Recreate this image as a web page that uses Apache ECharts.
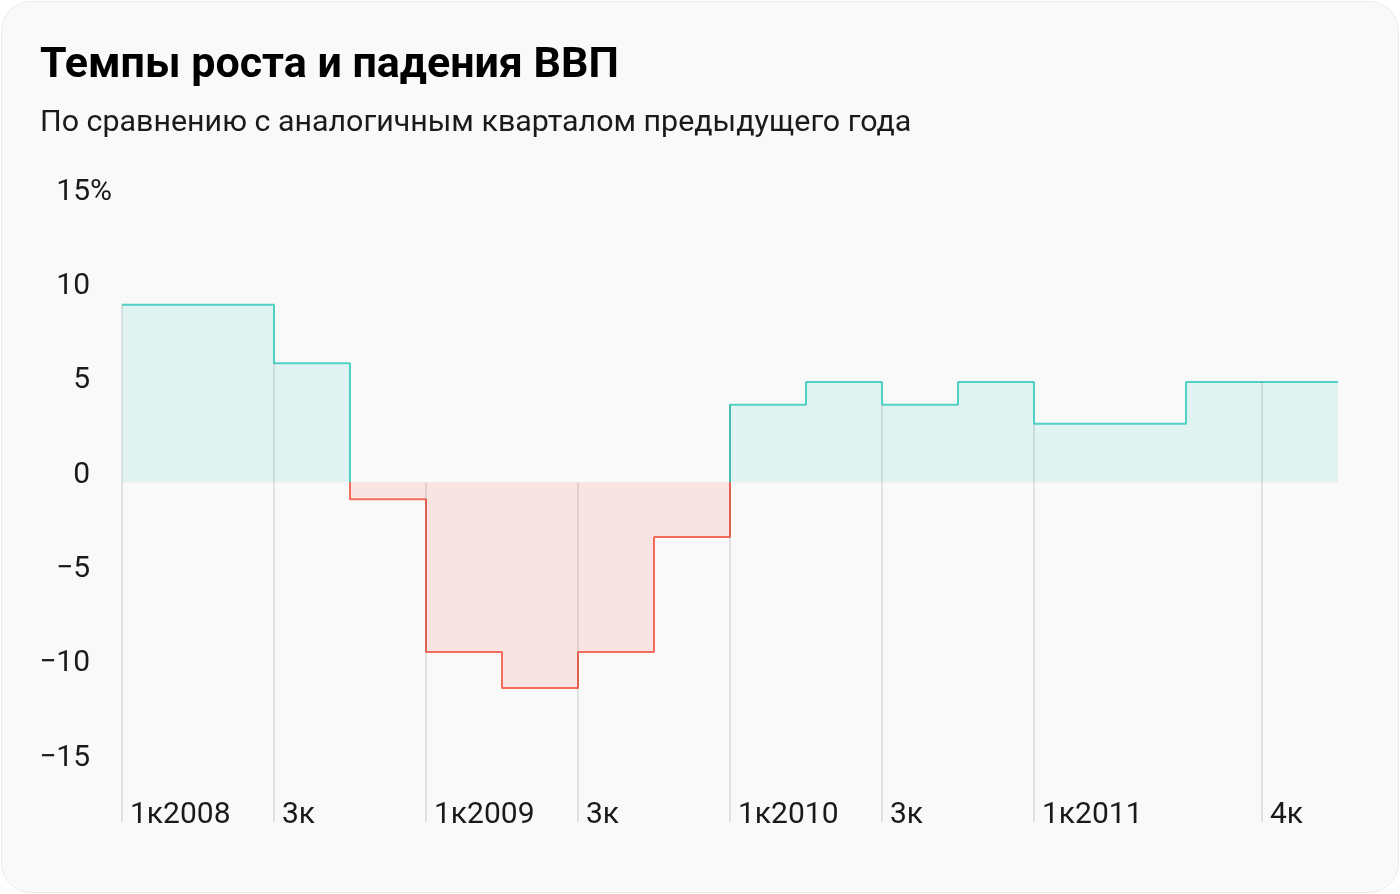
<!DOCTYPE html>
<html>
<head>
<meta charset="utf-8">
<script src="https://cdn.jsdelivr.net/npm/echarts@6/dist/echarts.min.js"></script>
<style>
  html, body { margin: 0; padding: 0; background: #ffffff; }
  #card {
    position: absolute; left: 1px; top: 1px; width: 1396px; height: 890px;
    background: #f9f9f9; border: 1px solid #ebebeb; border-radius: 30px;
  }
  #chart { position: absolute; left: 0; top: 0; width: 1400px; height: 894px; }
</style>
</head>
<body>
<div id="card"></div>
<div id="chart"></div>
<script>
// ---- data ----
const quarters = ['1к2008','2к2008','3к2008','4к2008','1к2009','2к2009','3к2009','4к2009',
                  '1к2010','2к2010','3к2010','4к2010','1к2011','2к2011','3к2011','4к2011'];
const gdpGrowth = [9.4, 9.4, 6.3, -0.9, -9.0, -10.9, -9.0, -2.9,
                   4.1, 5.3, 4.1, 5.3, 3.1, 3.1, 5.3, 5.3];
const xTickIndex = [0, 2, 4, 6, 8, 10, 12, 15];
const xTickLabels = ['1к2008', '3к', '1к2009', '3к', '1к2010', '3к', '1к2011', '4к'];
const yTickValues = [-15, -10, -5, 0, 5, 10, 15];
const yMin = -18, yMax = 15;

const titleText = 'Темпы роста и падения ВВП';
const subtitleText = 'По сравнению с аналогичным кварталом предыдущего года';

// ---- build series data ----
const stepData = gdpGrowth.map((v, i) => [i, v]);
stepData.push([gdpGrowth.length, gdpGrowth[gdpGrowth.length - 1]]);
const guideLines = xTickIndex.map(i => [
  { coord: [i, Math.max(gdpGrowth[i], 0)] },
  { coord: [i, yMin] }
]);

// gradient split at zero (offset within the shape's bounding box)
const dMax = Math.max(0, ...gdpGrowth), dMin = Math.min(0, ...gdpGrowth);
const zeroOff = dMax / (dMax - dMin);
function splitGradient(pos, neg) {
  return new echarts.graphic.LinearGradient(0, 0, 0, 1, [
    { offset: 0, color: pos }, { offset: zeroOff, color: pos },
    { offset: zeroOff, color: neg }, { offset: 1, color: neg }
  ]);
}

const FONT = 'Roboto';
const LABEL_W = 60;
const chart = echarts.init(document.getElementById('chart'), null, { renderer: 'canvas' });

chart.setOption({
  backgroundColor: 'transparent',
  animation: false,
  title: [
    { text: titleText, left: 35, top: 40,
      textStyle: { fontFamily: FONT, fontWeight: 'bold', fontSize: 43, color: '#000' } },
    { text: subtitleText, left: 35, top: 103,
      textStyle: { fontFamily: FONT, fontWeight: 'normal', fontSize: 30.4, color: '#1a1a1a' } }
  ],
  grid: { left: 122, right: 62, top: 199, bottom: 72, containLabel: false },
  xAxis: {
    type: 'value', min: 0, max: quarters.length,
    axisLine: { show: false }, axisTick: { show: false }, splitLine: { show: false },
    axisLabel: {
      customValues: xTickIndex,
      inside: true, margin: 0,
      align: 'left', verticalAlign: 'bottom', lineHeight: 14,
      padding: [0, 0, 0, 8],
      fontFamily: FONT, fontSize: 30, color: '#1a1a1a',
      formatter: v => xTickLabels[xTickIndex.indexOf(v)]
    }
  },
  yAxis: {
    type: 'value', min: yMin, max: yMax,
    axisLine: { show: false }, axisTick: { show: false }, splitLine: { show: false },
    axisLabel: {
      customValues: yTickValues,
      margin: 122 - (90 - LABEL_W), align: 'left', verticalAlign: 'bottom', lineHeight: 14,
      fontFamily: FONT, fontSize: 30, color: '#1a1a1a',
      formatter: v => {
        const s = (v < 0 ? '\u2212' : '') + Math.abs(v);
        return '{n|' + s + '}' + (v === yMax ? '{p|%}' : '');
      },
      rich: {
        n: { width: LABEL_W, align: 'right', lineHeight: 14, fontFamily: FONT, fontSize: 30, color: '#1a1a1a' },
        p: { align: 'right', lineHeight: 14, fontFamily: FONT, fontSize: 30, color: '#1a1a1a' }
      }
    }
  },
  series: [
    {
      type: 'line', step: 'end', data: stepData, symbol: 'none', z: 3,
      lineStyle: { width: 2, color: splitGradient('#4fd1c5', '#f26b5b') },
      areaStyle: { origin: 0, opacity: 1,
        color: splitGradient('rgba(79,209,197,0.15)', 'rgba(242,107,91,0.15)') }
    },
    {
      type: 'line', data: [], z: 1, symbol: 'none',
      markLine: {
        silent: true, symbol: ['none', 'none'], animation: false,
        label: { show: false },
        lineStyle: { type: 'solid', color: 'rgba(0,0,0,0.09)', width: 2 },
        data: guideLines
      }
    }
  ]
});
</script>
</body>
</html>
